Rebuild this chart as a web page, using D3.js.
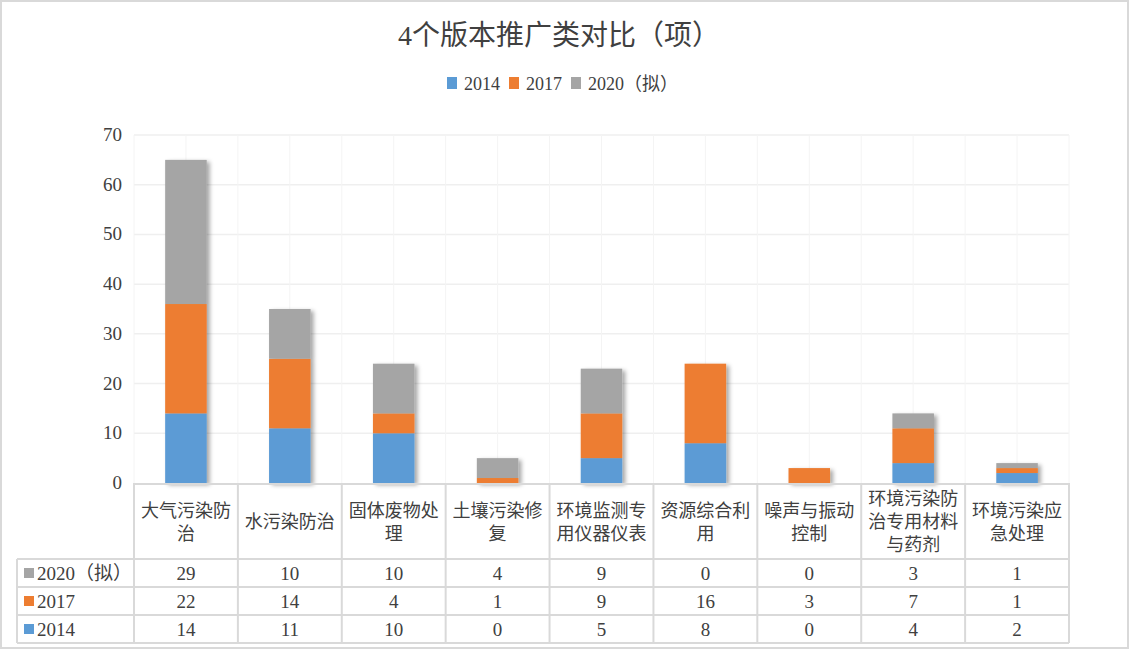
<!DOCTYPE html>
<html><head><meta charset="utf-8">
<script src="https://cdn.jsdelivr.net/npm/d3@7"></script>
<style>
html,body{margin:0;padding:0;background:#fff;}
svg text{font-family:"Liberation Serif","Noto Sans CJK SC",serif;fill:#404040;}
</style></head>
<body>
<svg id="chart" width="1130" height="662"></svg>
<script>
const title = "4个版本推广类对比（项）";
const categories = ["大气污染防治","水污染防治","固体废物处理","土壤污染修复","环境监测专用仪器仪表","资源综合利用","噪声与振动控制","环境污染防治专用材料与药剂","环境污染应急处理"];
const seriesNames = ["2014","2017","2020（拟）"];
const values2014 = [14,11,10,0,5,8,0,4,2];
const values2017 = [22,14,4,1,9,16,3,7,1];
const values2020 = [29,10,10,4,9,0,0,3,1];
const colors = ["#5B9BD5","#ED7D31","#A5A5A5"];
const yTicks = [0,10,20,30,40,50,60,70];

const svg = d3.select("#chart");
const W = 1130;
const plotL = 134, plotR = 1069, plotT = 135, plotB = 483;
const tableL = 17;
const rowYs = [559, 587, 615, 643];

const x = d3.scaleBand().domain(categories).range([plotL, plotR]).padding(0);
const y = d3.scaleLinear().domain([0, 70]).range([plotB, plotT]);

// outer frame
svg.append("rect").attr("x",1).attr("y",1).attr("width",1127).attr("height",647)
  .attr("fill","#fff").attr("stroke","#d9d9d9").attr("stroke-width",2);

// defs shadow
const defs = svg.append("defs");
const f = defs.append("filter").attr("id","sh").attr("x","-20%").attr("y","-20%").attr("width","150%").attr("height","150%");
f.append("feDropShadow").attr("dx",3).attr("dy",2).attr("stdDeviation",2)
  .attr("flood-color","#000").attr("flood-opacity",0.35);

// title
svg.append("text").attr("x",559).attr("y",45).attr("text-anchor","middle")
  .style("font-size","28px").text(title);

// legend
const legX = [447, 509, 571];
seriesNames.forEach((s,i)=>{
  svg.append("rect").attr("x",legX[i]).attr("y",77).attr("width",10).attr("height",12).attr("fill",colors[i]);
  svg.append("text").attr("x",legX[i]+17).attr("y",90).style("font-size","18px").text(s);
});

// gridlines
const grid = svg.append("g");
yTicks.filter(t=>t>0).forEach(t=>{
  grid.append("line").attr("x1",plotL).attr("x2",plotR).attr("y1",y(t)).attr("y2",y(t))
    .attr("stroke","#efefef").attr("stroke-width",1.5);
});
const vlines = [];
categories.forEach(c=>{ vlines.push(x(c)); vlines.push(x(c)+x.bandwidth()/2); });
vlines.push(plotR);
vlines.forEach(v=>{
  grid.append("line").attr("x1",v).attr("x2",v).attr("y1",plotT).attr("y2",plotB)
    .attr("stroke","#f4f4f4").attr("stroke-width",1);
});

// y axis labels
yTicks.forEach(t=>{
  svg.append("text").attr("x",122).attr("y",y(t)+6).attr("text-anchor","end")
    .style("font-size","19px").text(t);
});

// stacked bars
const rows = categories.map((c,i)=>({cat:c, s0:values2014[i], s1:values2017[i], s2:values2020[i]}));
const stack = d3.stack().keys(["s0","s1","s2"]);
const layers = stack(rows);
const bw = x.bandwidth()*0.4;
const bars = svg.append("g").attr("filter","url(#sh)");
layers.forEach((layer,li)=>{
  bars.selectAll(null).data(layer).enter().append("rect")
    .attr("x",d=>x(d.data.cat)+x.bandwidth()/2-bw/2)
    .attr("width",bw)
    .attr("y",d=>y(d[1]))
    .attr("height",d=>y(d[0])-y(d[1]))
    .attr("fill",colors[li]);
});

// table
const tbl = svg.append("g");
const lc = "#d9d9d9";
tbl.append("line").attr("x1",plotL).attr("x2",plotR).attr("y1",plotB+1).attr("y2",plotB+1).attr("stroke",lc).attr("stroke-width",2);
rowYs.forEach(ry=>{
  tbl.append("line").attr("x1",tableL).attr("x2",plotR).attr("y1",ry).attr("y2",ry).attr("stroke",lc).attr("stroke-width",2);
});
categories.forEach(c=>{
  tbl.append("line").attr("x1",x(c)).attr("x2",x(c)).attr("y1",plotB).attr("y2",rowYs[3]).attr("stroke",lc).attr("stroke-width",2);
});
tbl.append("line").attr("x1",plotR).attr("x2",plotR).attr("y1",plotB).attr("y2",rowYs[3]).attr("stroke",lc).attr("stroke-width",2);
tbl.append("line").attr("x1",tableL).attr("x2",tableL).attr("y1",rowYs[0]).attr("y2",rowYs[3]).attr("stroke",lc).attr("stroke-width",2);

// header labels (wrap at 5 chars)
const headerMid = (plotB + rowYs[0]) / 2;
categories.forEach(c=>{
  const lines = [];
  for (let k=0;k<c.length;k+=5) lines.push(c.slice(k,k+5));
  const lh = 23;
  const y0 = headerMid - (lines.length-1)*lh/2;
  lines.forEach((ln,k)=>{
    tbl.append("text").attr("x",x(c)+x.bandwidth()/2).attr("y",y0+k*lh+7)
      .attr("text-anchor","middle").style("font-size","18px").text(ln);
  });
});

// data rows: 2020, 2017, 2014
const tableSeries = [2,1,0];
const seriesVals = [values2014, values2017, values2020];
tableSeries.forEach((si,r)=>{
  const cy = (rowYs[r]+rowYs[r+1])/2;
  tbl.append("rect").attr("x",24).attr("y",cy-5).attr("width",10).attr("height",10).attr("fill",colors[si]);
  tbl.append("text").attr("x",37).attr("y",cy+7).style("font-size","19px").text(seriesNames[si]);
  categories.forEach((c,i)=>{
    tbl.append("text").attr("x",x(c)+x.bandwidth()/2).attr("y",cy+7).attr("text-anchor","middle")
      .style("font-size","19px").text(seriesVals[si][i]);
  });
});
</script>
</body></html>
